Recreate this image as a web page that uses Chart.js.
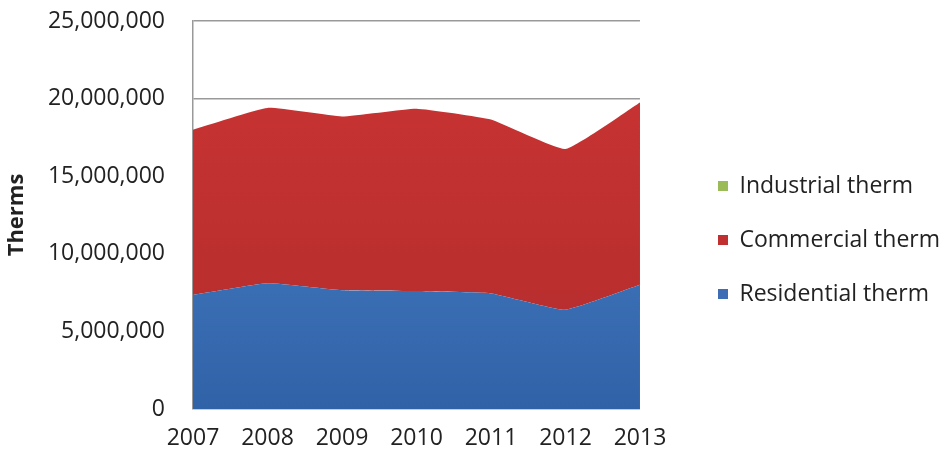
<!DOCTYPE html>
<html>
<head>
    <title>Therms by sector</title>
    <script src="https://cdn.jsdelivr.net/npm/chart.js"></script>
    <style>
        html, body { margin: 0; padding: 0; background: #fff; }
        #wrap { width: 943px; height: 459px; }
    </style>
</head>
<body>
    <div id="wrap"><canvas id="chart"></canvas></div>
    <script>
        const years = ['2007', '2008', '2009', '2010', '2011', '2012', '2013'];
        const residential = [7350000, 8100000, 7650000, 7600000, 7450000, 6400000, 8000000];
        const commercial = [10650000, 11300000, 11200000, 11750000, 11200000, 10350000, 11750000];
        const industrial = [0, 0, 0, 0, 0, 0, 0];
        const yTicks = [0, 5000000, 10000000, 15000000, 20000000, 25000000];

        const font = 'Open Sans';
        const textColor = '#222';

        // vertical shading like the original, light at top, darker at the bottom
        function shade(top, bottom) {
            return ctx => {
                const area = ctx.chart.chartArea;
                if (!area) return bottom;
                const g = ctx.chart.ctx.createLinearGradient(0, area.top, 0, area.bottom);
                g.addColorStop(0, top);
                g.addColorStop(1, bottom);
                return g;
            };
        }

        const chart = new Chart(document.querySelector('#chart'), {
            type: 'line',
            data: {
                labels: years,
                datasets: [{
                    label: 'Residential therm',
                    data: residential,
                    backgroundColor: shade('#5088CC', '#3062A8'),
                    borderColor: '#3D6EB5',
                    fill: 'origin'
                }, {
                    label: 'Commercial therm',
                    data: commercial,
                    backgroundColor: shade('#CC3434', '#B22C2C'),
                    borderColor: '#C03030',
                    fill: '-1'
                }, {
                    label: 'Industrial therm',
                    data: industrial,
                    backgroundColor: '#9BBB59',
                    borderColor: '#9BBB59',
                    fill: '-1'
                }]
            },
            options: {
                responsive: true,
                maintainAspectRatio: false,
                animation: false,
                elements: {
                    point: { radius: 0 },
                    line: { borderWidth: 0, tension: 0.12 }
                },
                layout: { padding: { top: 21, right: -7, bottom: 0, left: 0 } },
                plugins: {
                    tooltip: { enabled: false },
                    legend: {
                        position: 'right',
                        reverse: true,
                        maxWidth: 320,
                        labels: {
                            boxWidth: 10,
                            boxHeight: 10,
                            padding: 31,
                            color: textColor,
                            font: { family: font, size: 23 },
                            generateLabels: c => Chart.defaults.plugins.legend.labels.generateLabels(c).map(l => {
                                l.fillStyle = ['#3D6EB5', '#C03030', '#9BBB59'][l.datasetIndex];
                                return l;
                            })
                        }
                    }
                },
                scales: {
                    x: {
                        offset: false,
                        grid: { display: false, drawTicks: false },
                        border: { display: false },
                        ticks: {
                            padding: 16,
                            color: textColor,
                            font: { family: font, size: 23 },
                            maxRotation: 0
                        },
                        afterFit: s => { s.height = 50; }
                    },
                    y: {
                        stacked: true,
                        min: 0,
                        max: 25000000,
                        afterBuildTicks: s => { s.ticks = yTicks.map(v => ({ value: v })); },
                        // invisible tick marks keep the labels clear of the axis
                        grid: { color: '#999', lineWidth: 1.5, tickLength: 24, tickColor: 'rgba(0,0,0,0)' },
                        border: { color: '#999', width: 1.5 },
                        ticks: {
                            padding: 4,
                            color: textColor,
                            font: { family: font, size: 23 },
                            callback: v => v.toLocaleString('en-US')
                        },
                        title: {
                            display: true,
                            text: 'Therms',
                            color: textColor,
                            padding: { top: 4, bottom: 0 },
                            font: { family: font, size: 22, weight: 'bold' }
                        },
                        afterFit: s => { s.width = 193; }
                    },
                    gap: {
                        position: 'right',
                        grid: { display: false },
                        border: { display: false },
                        ticks: { display: false },
                        afterFit: s => { s.width = 47; }
                    }
                }
            }
        });
    </script>
</body>
</html>
